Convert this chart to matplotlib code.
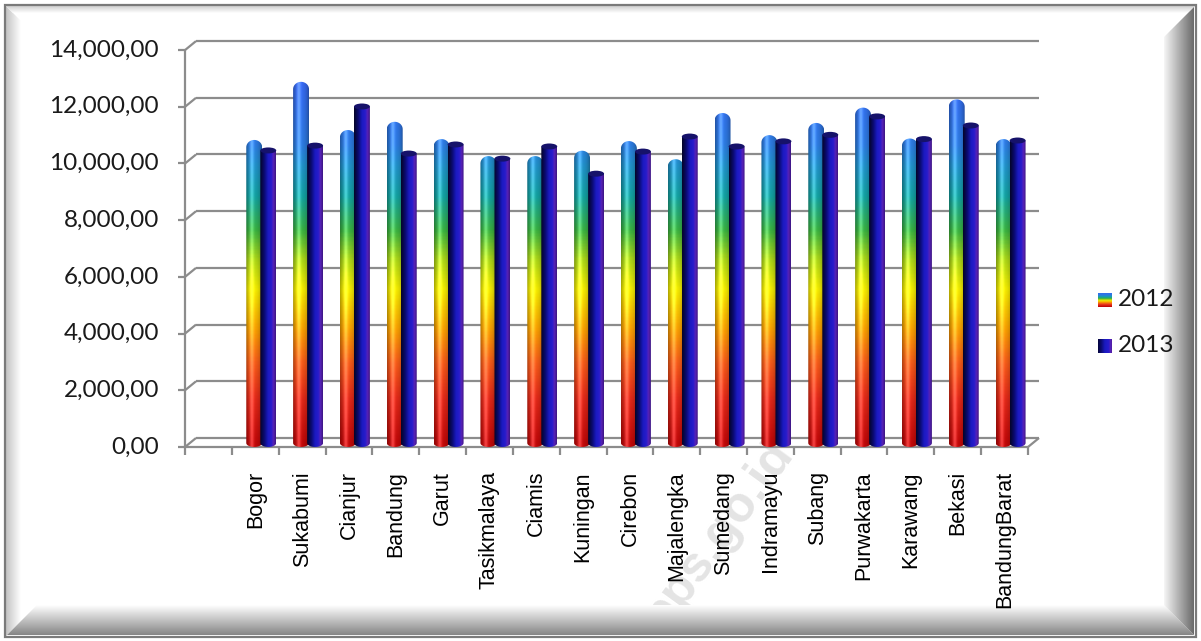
import numpy as np
import matplotlib.pyplot as plt
import matplotlib.transforms as mtransforms
from matplotlib.colors import LinearSegmentedColormap, to_rgb
from matplotlib.patches import Polygon, Ellipse, Rectangle

# ---- data ----
regions = ["", "Bogor", "Sukabumi", "Cianjur", "Bandung", "Garut", "Tasikmalaya",
           "Ciamis", "Kuningan", "Cirebon", "Majalengka", "Sumedang", "Indramayu",
           "Subang", "Purwakarta", "Karawang", "Bekasi", "BandungBarat"]
val_2012 = [np.nan, 10570, 12620, 10920, 11210, 10600, 10000, 10000, 10190, 10530,
            9890, 11520, 10740, 11170, 11710, 10620, 12000, 10600]
val_2013 = [np.nan, 10320, 10490, 11870, 10210, 10530, 10030, 10460, 9500, 10280,
            10810, 10460, 10640, 10870, 11520, 10720, 11200, 10670]
series = ["2012", "2013"]
yticks = [0, 2000, 4000, 6000, 8000, 10000, 12000, 14000]
ytick_labels = ["0,00", "2,000,00", "4,000,00", "6,000,00", "8,000,00",
                "10,000,00", "12,000,00", "14,000,00"]

W, H = 1201, 641
fig = plt.figure(figsize=(W / 100, H / 100), dpi=100)
fig.patch.set_facecolor("white")

# ---- picture frame (pixel coordinates) ----
fax = fig.add_axes([0, 0, 1, 1], zorder=0)
fax.set_xlim(0, W)
fax.set_ylim(H, 0)
fax.axis("off")


def shade_poly(verts, c_from, c_to, axis, lo, hi):
    ramp = np.linspace(0, 1, 64)[:, None]
    c0, c1 = np.array(to_rgb(c_from)), np.array(to_rgb(c_to))
    cols = c0 + (c1 - c0) * ramp
    if axis == "y":
        img, ext = cols[:, None, :], (0, W, lo, hi)
    else:
        img, ext = cols[None, :, :], (lo, hi, 0, H)
    im = fax.imshow(img, extent=ext, origin="lower", aspect="auto",
                    interpolation="bilinear", zorder=2)
    im.set_clip_path(Polygon(verts, closed=True, transform=fax.transData))


# watermark
fax.text(718, 535, "bps.go.id", rotation=54, fontsize=36, fontweight="bold",
         color="#e4e4e4", ha="center", va="center", family="Liberation Sans", zorder=1)

bw = 32
x0f, y0f, x1f, y1f = 5, 5, 1196, 637
shade_poly([(x0f, y0f), (x0f, y1f), (x0f + bw, y1f - bw), (x0f + bw, y0f + bw)],
           "#c4c4c4", "white", "x", x0f + 1, x0f + 16)
shade_poly([(x0f, y0f), (x1f, y0f), (x1f - bw, y0f + bw), (x0f + bw, y0f + bw)],
           "#cfcfcf", "white", "y", y0f + 1, y0f + 8)
shade_poly([(x0f, y1f), (x1f, y1f), (x1f - bw, y1f - bw), (x0f + bw, y1f - bw)],
           "white", "#858585", "y", y1f - bw, y1f - 2)
shade_poly([(x1f, y0f), (x1f, y1f), (x1f - bw, y1f - bw), (x1f - bw, y0f + bw)],
           "white", "#6a6a6a", "x", x1f - bw - 2, x1f - 2)
fax.add_patch(Rectangle((x0f, y0f), x1f - x0f, y1f - y0f, fill=False,
                        edgecolor="#7a7a7a", lw=1.6, zorder=3))

# ---- chart area ----
px_per_k = 28.35           # pixels per 1000 units
zero_px, ymin = 443, -300
bottom_px = zero_px - ymin / 1000 * px_per_k
top_px = zero_px - 14000 / 1000 * px_per_k
left_px, right_px = 191, 1034
ax = fig.add_axes([left_px / W, 1 - bottom_px / H, (right_px - left_px) / W,
                   (bottom_px - top_px) / H], zorder=1)
ax.set_xlim(-0.5, len(regions) - 0.5)
ax.set_ylim(ymin, 14000)
ax.patch.set_alpha(0)
ax.axis("off")

back = ax.transData + mtransforms.ScaledTranslation(5 / 100, 5 / 100, fig.dpi_scale_trans)
front = ax.transData + mtransforms.ScaledTranslation(-6 / 100, -4 / 100, fig.dpi_scale_trans)
xl, xr = -0.5, len(regions) - 0.5
grid_c = "#8c8c8c"
line_kw = dict(color=grid_c, lw=1.6, clip_on=False, solid_capstyle="butt")

for v in yticks:
    ax.plot([xl, xr], [v, v], transform=back, **line_kw)
# connectors front -> back
disp_f = front.transform([[xl, v] for v in yticks])
disp_b = back.transform([[xl, v] for v in yticks])
for a, b in zip(disp_f, disp_b):
    ax.plot([a[0], b[0]], [a[1], b[1]], transform=None, **line_kw)
a, b = front.transform([xr, 0]), back.transform([xr, 0])
ax.plot([a[0], b[0]], [a[1], b[1]], transform=None, **line_kw)
# front axis lines
ax.plot([xl, xl], [0, 14000], transform=front, **line_kw)
ax.plot([xl, xr], [0, 0], transform=front, **line_kw)
ax.plot([xl] * len(yticks), yticks, ls="none", marker=0, markersize=5.2,
        markeredgewidth=1.6, color=grid_c, transform=front, clip_on=False)
ax.plot(np.arange(len(regions) + 1) - 0.5, [0] * (len(regions) + 1), ls="none",
        marker=3, markersize=6, markeredgewidth=1.6, color=grid_c, transform=front,
        clip_on=False)

for v, lab in zip(yticks, ytick_labels):
    ax.annotate(lab, xy=(xl, v), xycoords=front, xytext=(-26, 0),
                textcoords="offset pixels", ha="right", va="center",
                fontsize=17.5, family="Lato", color="#1a1a1a")
for i, lab in enumerate(regions):
    ax.annotate(lab, xy=(i, 0), xycoords=front, xytext=(0, -24),
                textcoords="offset pixels", ha="center", va="top", rotation=90,
                fontsize=15.5, family="Liberation Sans", color="black")

# ---- bars ----
rainbow = LinearSegmentedColormap.from_list("rainbow_bar", [
    (0.00, "#c00808"), (0.12, "#e02818"), (0.22, "#f45a18"), (0.315, "#f8a000"),
    (0.425, "#f4ec00"), (0.51, "#a8d418"), (0.59, "#38b040"), (0.685, "#12a0a0"),
    (0.77, "#2090c8"), (0.83, "#2c7ae0"), (1.00, "#3568f0")])
vmax = 12700
navy = LinearSegmentedColormap.from_list("navy_bar", [
    (0.0, "#05052a"), (0.25, "#0a0a6c"), (0.5, "#1a1ac0"), (0.72, "#281ccc"),
    (0.86, "#5a22b6"), (1.0, "#3c1684")])

bw_data = 0.34
off = 0.15
u = np.linspace(0, 1, 32)
shade = 0.62 + 0.38 * np.sin(np.pi * np.clip(u * 0.95 + 0.03, 0, 1)) ** 0.6
gloss = 0.22 * np.exp(-((u - 0.36) / 0.13) ** 2)


def cyl_outline(xc, w, top, cap_top, cap_bot):
    t = np.linspace(0, np.pi, 30)
    top_pts = np.column_stack([xc - w / 2 * np.cos(t), top - cap_top + cap_top * np.sin(t)])
    bot_pts = np.column_stack([xc + w / 2 * np.cos(t), -cap_bot * np.sin(t)])
    return np.vstack([top_pts, bot_pts])


for i in range(len(regions)):
    v12, v13 = val_2012[i], val_2013[i]
    if np.isnan(v12):
        continue
    # 2012: rainbow cylinder with dome
    xc = i - off
    dome_top = v12 + 120
    yy = np.linspace(-150, dome_top, 300)
    base = rainbow(np.clip(yy / vmax, 0, 1))[:, :3]
    img = base[:, None, :] * shade[None, :, None] + gloss[None, :, None]
    img = np.clip(img, 0, 1)
    im = ax.imshow(img, extent=(xc - bw_data / 2, xc + bw_data / 2, -150, dome_top),
                   origin="lower", aspect="auto", interpolation="bilinear", zorder=3)
    im.set_clip_path(Polygon(cyl_outline(xc, bw_data, dome_top, 260, 140),
                             closed=True, transform=ax.transData))

    # 2013: navy cylinder with flat top
    xc = i + off
    img = navy(u)[:, :3][None, :, :].repeat(2, axis=0)
    im = ax.imshow(img, extent=(xc - bw_data / 2, xc + bw_data / 2, -150, v13),
                   origin="lower", aspect="auto", interpolation="bilinear", zorder=4)
    im.set_clip_path(Polygon(cyl_outline(xc, bw_data, v13, 0, 140),
                             closed=True, transform=ax.transData))
    ax.add_patch(Ellipse((xc, v13), bw_data, 210, facecolor="#16126a",
                         edgecolor="none", zorder=5))

# ---- legend ----
key12 = rainbow(np.linspace(0.95, 0.0, 16))[:, :3][:, None, :].repeat(14, axis=1)
fax.imshow(key12, extent=(1098, 1112, 307, 293), origin="upper", aspect="auto",
           interpolation="bilinear", zorder=4)
key13 = navy(np.linspace(0.1, 0.9, 14))[:, :3][None, :, :].repeat(14, axis=0)
fax.imshow(key13, extent=(1098, 1112, 353, 339), origin="upper", aspect="auto",
           interpolation="bilinear", zorder=4)
for name, ypix in zip(series, [300, 346]):
    fax.text(1118, ypix, name, ha="left", va="center", fontsize=17.5,
             family="Lato", color="#1a1a1a", zorder=4)
fax.set_xlim(0, W)
fax.set_ylim(H, 0)

fig.savefig("out.png", dpi=100)
